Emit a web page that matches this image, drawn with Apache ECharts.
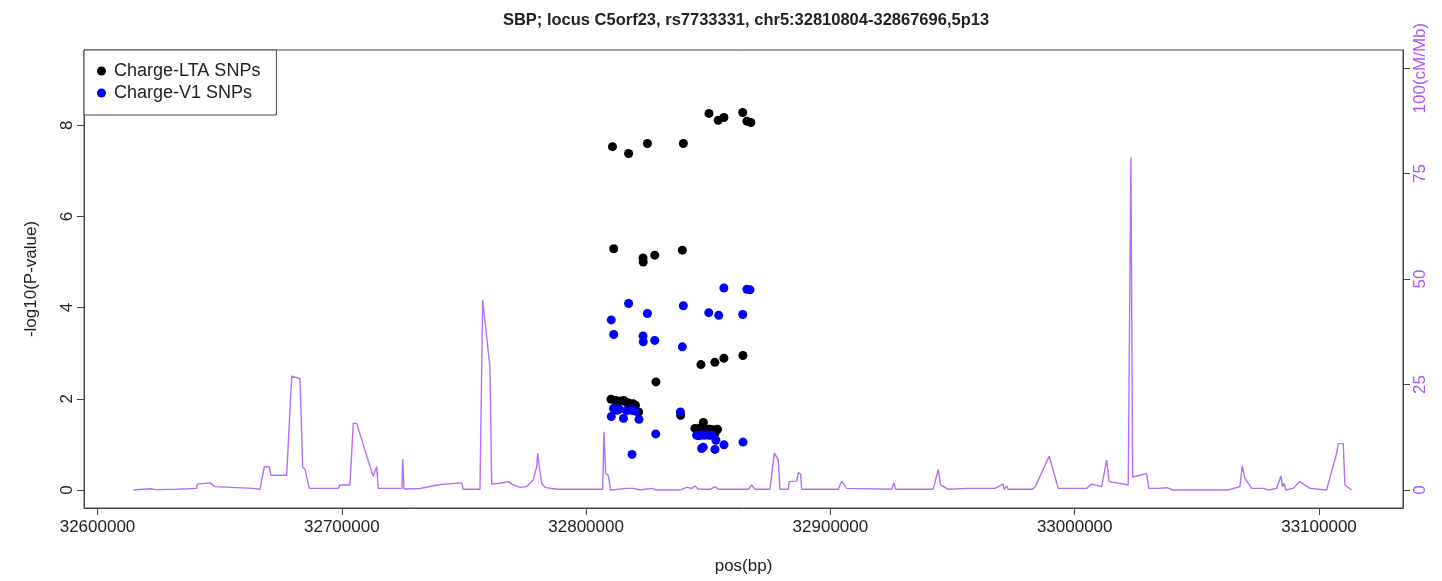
<!DOCTYPE html>
<html>
<head>
<meta charset="utf-8">
<title>SBP locus C5orf23</title>
<script src="https://cdn.jsdelivr.net/npm/echarts@6/dist/echarts.min.js"></script>
<style>
  html, body { margin: 0; padding: 0; background: #fff; }
  #chart { width: 1442px; height: 581px; }
</style>
</head>
<body>
<div id="chart"></div>
<script>
// recombination rate (cM/Mb) along the region
var recPos = [32614650,32621490,32623950,32632420,32640600,32640850,32646050,32648090,32663770,32666510,
  32668270,32670320,32671010,32677440,32679490,32682880,32683990,32684930,32686690,32698560,
  32699260,32703350,32704700,32706090,32712230,32712880,32714280,32714930,32724630,32724920,
  32725450,32732000,32740180,32749070,32749720,32756560,32757660,32760650,32761350,32764740,
  32768140,32769530,32772930,32775670,32778370,32779760,32780170,32780580,32781810,32783160,
  32787950,32806780,32807310,32808010,32809070,32810050,32816600,32817260,32819300,32822050,
  32826840,32828880,32838420,32841160,32843210,32844560,32845910,32850700,32852740,32854100,
  32866380,32867770,32869120,32875260,32877020,32878660,32879350,32882740,32883160,32886180,
  32886840,32887820,32888230,32903210,32904600,32906650,32925070,32926010,32926710,32942090,
  32944140,32945120,32948230,32955760,32956420,32967350,32970750,32971160,32972140,32972800,
  32982370,32983720,32989570,32993260,33004880,33006930,33011020,33013070,33014130,33021910,
  33023010,33023710,33026700,33029440,33030380,33034190,33037620,33040330,33062840,33067620,
  33068570,33069670,33072410,33077160,33079210,33082650,33084410,33085100,33085630,33086450,
  33089440,33092180,33096270,33103110,33107210,33107860,33109910,33110600,33113340];
var recRate = [0,0.3,0.1,0.17,0.4,1.4,1.7,0.8,0.4,0.17,
  5.5,5.5,3.5,3.5,27.0,26.4,5.4,4.9,0.4,0.4,
  1.2,1.2,15.8,15.8,4.3,3.3,5.5,0.4,0.4,7.3,
  0.24,0.35,1.3,1.7,0.17,0.17,45.1,29.1,1.4,1.6,
  2.0,1.4,0.64,0.8,2.4,5.5,8.7,6.7,1.6,0.64,
  0.17,0.17,13.8,3.9,3.5,0,0.4,0,0.4,0,
  0.4,0,0,0.64,0.4,0.95,0.17,0.17,0.8,0.17,
  0.17,1.2,0.17,0.17,8.8,7.1,0.17,0.17,2.0,2.1,
  4.1,3.8,0.17,0.17,2.1,0.4,0.17,1.7,0.17,0.17,
  4.9,1.2,0.17,0.4,0.17,0.4,1.4,0.17,0.95,0.17,
  0.17,0.64,8.0,0.4,0.4,1.4,0.8,7.1,2.0,1.2,
  78.8,3.1,3.5,3.9,0.4,0.4,0.55,0,0,0.8,
  5.7,2.8,0.4,0.4,0,0.4,3.3,0.8,1.6,0,
  0.4,2.0,0.4,0,8.7,11.0,11.0,1.2,0];

// Charge-LTA SNPs
var ltaPos = [32810800,32817400,32825100,32839800,32850300,32854100,32856400,32864100,32865800,32867400,
  32811300,32823300,32823400,32828100,32839400,
  32847000,32852700,32856400,32864200,32828600,
  32810200,32812200,32814150,32815500,32816600,32817650,32819300,32820200,32821500,
  32838700,
  32844550,32845400,32846650,32848000,32848750,32850100,32850700,32852050,32852740,32853800];
var ltaLogP = [7.53,7.38,7.60,7.60,8.26,8.11,8.17,8.28,8.09,8.06,
  5.29,5.09,5.00,5.15,5.26,
  2.75,2.80,2.89,2.95,2.37,
  1.99,1.96,1.95,1.96,1.92,1.90,1.89,1.86,1.71,
  1.64,
  1.35,1.33,1.36,1.48,1.34,1.33,1.33,1.32,1.24,1.33];

// Charge-V1 SNPs
var v1Pos = [32817400,32839800,32810300,32825100,32850200,32854300,32864100,32856400,32865800,32867100,
  32811300,32823300,32823400,32828100,32839400,
  32811200,32811800,32812650,32813600,32816600,32818650,32820000,32810300,32815300,32821650,
  32838600,32828500,32818800,
  32845250,32846200,32847300,32848250,32849350,32850300,32851400,32853150,32856450,32864230,
  32847300,32847950,32852740];
var v1LogP = [4.09,4.04,3.73,3.87,3.89,3.83,3.85,4.43,4.40,4.39,
  3.41,3.38,3.25,3.28,3.14,
  1.79,1.78,1.75,1.77,1.74,1.75,1.73,1.61,1.57,1.55,
  1.71,1.23,0.78,
  1.20,1.19,1.21,1.20,1.21,1.20,1.20,1.09,0.99,1.05,
  0.91,0.94,0.89];

var xTicks = [32600000,32700000,32800000,32900000,33000000,33100000];
var yTicks = [0,2,4,6,8];
var recTicks = [0,25,50,75,100];

function pair(xs, ys) {
  var out = [];
  for (var i = 0; i < xs.length; i++) out.push([xs[i], ys[i]]);
  return out;
}

var font = "'Liberation Sans', Arial, sans-serif";
var axisCol = '#444';
var purple = '#a855f7';

var chart = echarts.init(document.getElementById('chart'));
chart.setOption({
  animation: false,
  backgroundColor: '#fff',
  textStyle: { fontFamily: font },
  title: {
    text: 'SBP; locus C5orf23, rs7733331, chr5:32810804-32867696,5p13',
    left: 741, top: 7, textAlign: 'center',
    textStyle: { fontFamily: font, fontSize: 16.5, fontWeight: 'bold', color: '#222' }
  },
  legend: {
    data: ['Charge-LTA SNPs', 'Charge-V1 SNPs'],
    orient: 'vertical', left: 84, top: 50,
    icon: 'circle', itemWidth: 9, itemHeight: 9, itemGap: 4,
    padding: [12, 16, 13, 13],
    backgroundColor: '#fff', borderColor: axisCol, borderWidth: 1, borderRadius: 0,
    textStyle: { fontFamily: font, fontSize: 18, color: '#222', padding: [0, 0, 0, 3] },
    selectedMode: false
  },
  grid: {
    left: 84, right: 39, top: 50, bottom: 73,
    show: true, borderColor: axisCol, borderWidth: 1
  },
  xAxis: {
    type: 'value', min: 32594474, max: 33134384,
    name: 'pos(bp)', nameLocation: 'middle', nameGap: 50,
    nameTextStyle: { fontFamily: font, fontSize: 17, color: '#222' },
    axisLine: { show: true, onZero: false, lineStyle: { color: axisCol } },
    axisTick: { show: true, length: 7, customValues: xTicks, lineStyle: { color: axisCol } },
    axisLabel: { customValues: xTicks, margin: 11, fontSize: 17, color: '#222',
      formatter: function (v) { return String(v); } },
    splitLine: { show: false }
  },
  yAxis: [{
    type: 'value', position: 'left', min: -0.395, max: 9.65,
    name: '-log10(P-value)', nameLocation: 'middle', nameGap: 44,
    nameTextStyle: { fontFamily: font, fontSize: 17, color: '#222' },
    axisLine: { show: true, onZero: false, lineStyle: { color: axisCol } },
    axisTick: { show: true, length: 7, customValues: yTicks, lineStyle: { color: axisCol } },
    axisLabel: { customValues: yTicks, rotate: 90, margin: 8, fontSize: 17, color: '#222' },
    splitLine: { show: false }
  }, {
    type: 'value', position: 'right', min: -4.26, max: 104.3,
    axisLine: { show: true, onZero: false, lineStyle: { color: axisCol } },
    axisTick: { show: true, length: 7, customValues: recTicks, lineStyle: { color: axisCol } },
    axisLabel: { customValues: recTicks, rotate: 90, margin: 9, fontSize: 17, color: purple,
      formatter: function (v) { return v === 100 ? '100(cM/Mb)' : String(v); } },
    splitLine: { show: false }
  }],
  series: [{
    name: 'recombination', type: 'line', yAxisIndex: 1,
    data: pair(recPos, recRate),
    showSymbol: false, symbol: 'none',
    lineStyle: { color: purple, width: 1.4, opacity: 0.85 },
    z: 1, silent: true
  }, {
    name: 'Charge-LTA SNPs', type: 'scatter',
    data: pair(ltaPos, ltaLogP),
    symbolSize: 9, itemStyle: { color: '#000', opacity: 1 }, z: 3
  }, {
    name: 'Charge-V1 SNPs', type: 'scatter',
    data: pair(v1Pos, v1LogP),
    symbolSize: 9, itemStyle: { color: '#0000ff', opacity: 1 }, z: 4
  }]
});
</script>
</body>
</html>
